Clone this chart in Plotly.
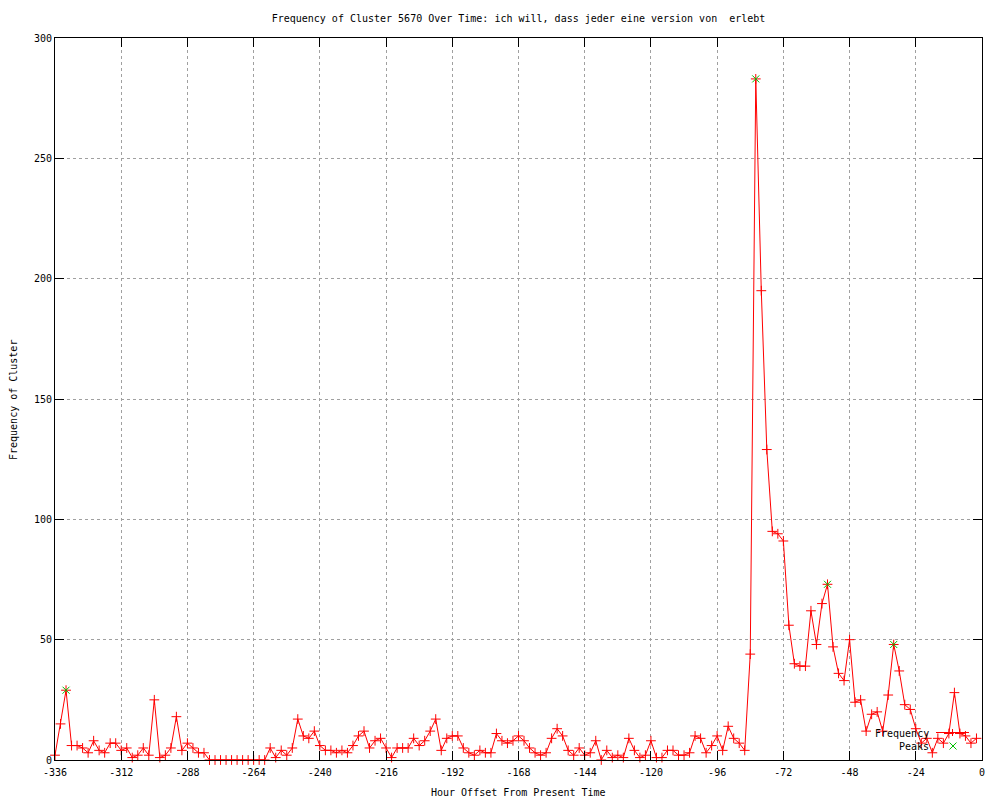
import plotly.graph_objects as go

# ---------------- data ----------------
hours = list(range(-336, 0, 2))  # one sample every 2 hours, -336 .. -2

freq_a = [2, 15, 29, 6, 6, 5, 3, 8, 4, 3, 7, 7, 4, 5, 1, 2, 5, 2, 25, 1,
          2, 5, 18, 4, 7, 5, 3, 3]                                   # -336 .. -282
freq_b = [0, 0, 0, 0, 0, 0, 0, 0, 0, 0, 0]                           # -280 .. -260
freq_c = [5, 1, 4, 2, 5, 17, 10, 9, 12, 6, 4, 4, 3, 4, 3, 6, 10, 12, 5, 8]  # -258 .. -220
freq_d = [9, 5, 1, 5, 5, 5, 9, 6, 8, 12, 17, 4, 9, 10, 10, 5, 3, 2, 4, 3,
          3, 11, 8, 7, 8, 10, 8, 5, 3]                               # -218 .. -162
freq_e = [2, 3, 9, 13, 10, 4, 2, 5, 2, 3, 8, 0, 4, 1, 2, 1, 9, 4, 1, 2,
          8, 1, 1, 4, 4, 2, 2, 3, 10]                                # -160 .. -104
freq_f = [9, 3, 6, 10, 4, 14, 9, 7, 4, 44, 283, 195, 129, 95, 94, 91, 56, 40,
          39, 39, 62, 48, 65, 73, 47, 36, 33, 50, 24, 25, 12, 19, 20, 12, 27,
          48, 37, 23, 21, 13, 7, 9, 3, 9, 7, 11, 28, 11, 10, 7, 9]    # -102 .. -2
frequency = freq_a + freq_b + freq_c + freq_d + freq_e + freq_f

peak_hours = [-332, -82, -56, -32]
peak_values = [29, 283, 73, 48]

x_ticks = [-336, -312, -288, -264, -240, -216, -192, -168, -144, -120, -96, -72, -48, -24, 0]
y_ticks = [0, 50, 100, 150, 200, 250, 300]

title_text = "Frequency of Cluster 5670 Over Time: ich will, dass jeder eine version von  erlebt"
x_title = "Hour Offset From Present Time"
y_title = "Frequency of Cluster"

# ---------------- style ----------------
FONT = "DejaVu Sans Mono"
RED = "#ff0000"
GREEN = "#00c000"
W, H = 1000, 800
L, R, T, B = 55, 18, 38, 40
PW, PH = W - L - R, H - T - B


def px(xp):
    return (xp - L) / PW


def py(yp):
    return (H - B - yp) / PH


fig = go.Figure()
fig.add_trace(go.Scatter(
    x=hours, y=frequency, mode="lines+markers", name="Frequency",
    line=dict(color=RED, width=1),
    marker=dict(symbol="cross-thin-open", size=7, color=RED,
                line=dict(color=RED, width=1)),
    cliponaxis=False, showlegend=False))
fig.add_trace(go.Scatter(
    x=peak_hours, y=peak_values, mode="markers", name="Peaks",
    marker=dict(symbol="x-thin-open", size=7, color=GREEN,
                line=dict(color=GREEN, width=1)),
    cliponaxis=False, showlegend=False))

axis_common = dict(
    showgrid=True, gridcolor="#a0a0a0", griddash="dot", gridwidth=1,
    zeroline=False, showline=True, linecolor="black", linewidth=1,
    mirror="ticks", ticks="inside", ticklen=9, tickcolor="black", tickwidth=1,
    tickfont=dict(family=FONT, size=10, color="black"),
)

fig.update_xaxes(range=[-336, 0], tickvals=x_ticks,
                 ticktext=[str(v) for v in x_ticks], ticklabelstandoff=3,
                 **axis_common)
fig.update_yaxes(range=[0, 300], tickvals=y_ticks,
                 ticktext=[str(v) for v in y_ticks], **axis_common)

# manual gnuplot-style key (text left, sample right)
ann = [
    dict(text="Frequency", x=px(931), y=py(733), xref="paper", yref="paper",
         xanchor="right", yanchor="middle", showarrow=False,
         font=dict(family=FONT, size=10, color="black")),
    dict(text="Peaks", x=px(931), y=py(746), xref="paper", yref="paper",
         xanchor="right", yanchor="middle", showarrow=False,
         font=dict(family=FONT, size=10, color="black")),
    dict(text=x_title, x=0.5, y=py(792), xref="paper", yref="paper",
         xanchor="center", yanchor="middle", showarrow=False,
         font=dict(family=FONT, size=10, color="black")),
    dict(text=y_title, x=px(13), y=py(400), xref="paper", yref="paper",
         xanchor="center", yanchor="middle", showarrow=False, textangle=-90,
         font=dict(family=FONT, size=10, color="black")),
]

shapes = []
lx0, lx1, ly = 936, 969, 732.5
cx = (lx0 + lx1) / 2
shapes.append(dict(type="line", xref="paper", yref="paper",
                   x0=px(lx0), x1=px(lx1), y0=py(ly), y1=py(ly),
                   line=dict(color=RED, width=1)))
shapes.append(dict(type="line", xref="paper", yref="paper",
                   x0=px(cx), x1=px(cx), y0=py(ly - 3.5), y1=py(ly + 3.5),
                   line=dict(color=RED, width=1)))
gx, gy = 953, 746
for dx in (-3.5, 3.5):
    shapes.append(dict(type="line", xref="paper", yref="paper",
                       x0=px(gx - dx), x1=px(gx + dx),
                       y0=py(gy - 3.5), y1=py(gy + 3.5),
                       line=dict(color=GREEN, width=1)))

fig.update_layout(
    width=W, height=H,
    margin=dict(l=L, r=R, t=T, b=B, pad=0),
    paper_bgcolor="white", plot_bgcolor="white",
    title=dict(text=title_text, x=0.5, xref="paper", xanchor="center",
               y=1 - 18 / H, yref="container", yanchor="middle",
               font=dict(family=FONT, size=10, color="black")),
    font=dict(family=FONT, size=10, color="black"),
    annotations=ann, shapes=shapes, showlegend=False,
)

fig.write_html("out.html",
               config={"displayModeBar": False},
               post_script="document.body.style.margin='0px';"
                           "document.body.style.padding='0px';")
